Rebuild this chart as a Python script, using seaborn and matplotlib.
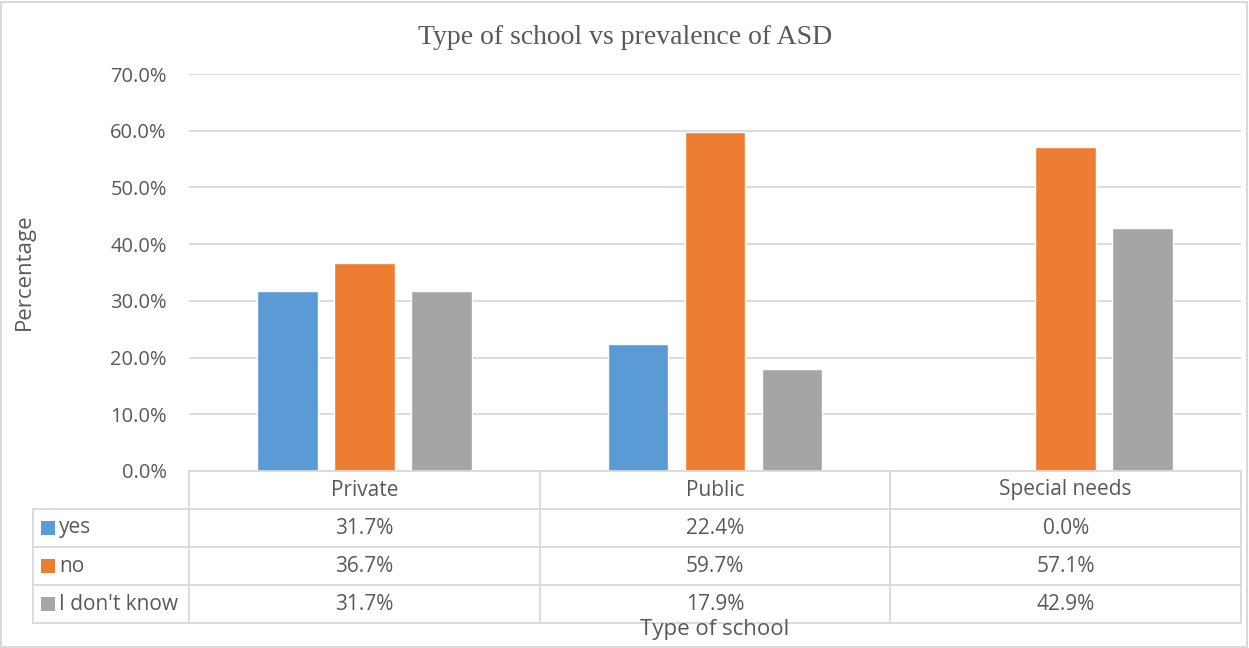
import matplotlib
matplotlib.use("Agg")
import matplotlib.pyplot as plt
import matplotlib.patches as mpatches
import numpy as np
import pandas as pd
import seaborn as sns

# Data
schools = ["Private", "Public", "Special needs"]
responses = ["yes", "no", "I don't know"]
yes_pct = [31.7, 22.4, 0.0]
no_pct = [36.7, 59.7, 57.1]
dont_know_pct = [31.7, 17.9, 42.9]
y_ticks = [0, 10, 20, 30, 40, 50, 60, 70]

colors = ["#5B9BD5", "#ED7D31", "#A5A5A5"]
grid_c = "#D9D9D9"
text_c = "#595959"
font = "Open Sans"

series = [yes_pct, no_pct, dont_know_pct]
df = pd.DataFrame(
    [(s, r, v) for r, vals in zip(responses, series) for s, v in zip(schools, vals)],
    columns=["school", "response", "pct"],
)

sns.set_style("white")
plt.rcParams["font.family"] = [font, "DejaVu Sans"]

W, H = 1249, 648
fig = plt.figure(figsize=(W / 100, H / 100), dpi=100)

def px_box(x0, y0, x1, y1):
    return [x0 / W, 1 - y1 / H, (x1 - x0) / W, (y1 - y0) / H]

# Plot area
ax = fig.add_axes(px_box(189, 74, 1241, 471))
sns.barplot(data=df, x="school", y="pct", hue="response", order=schools,
            hue_order=responses, palette=colors, width=0.658, gap=0.21,
            saturation=1, legend=False, ax=ax, zorder=3)
ax.set_xlim(-0.5, 2.5)
ax.set_ylim(0, 70)
ax.set_yticks(y_ticks)
ax.set_yticklabels([f"{t:.1f}%" for t in y_ticks], fontsize=14.5, color=text_c)
ax.tick_params(axis="y", length=0, pad=16)
ax.set_xticks([])
ax.set_xlabel("")
ax.set_ylabel("")
for s in ax.spines.values():
    s.set_visible(False)
ax.grid(axis="y", color=grid_c, linewidth=1.3, zorder=0)
ax.set_axisbelow(True)

# Data table under the plot, aligned to the category axis
col_px = (1241 - 189) / 3
extra = (189 - 33) / col_px
axt = fig.add_axes(px_box(33, 471, 1241, 623))
axt.set_xlim(-0.5 - extra, 2.5)
axt.set_ylim(4, 0)
axt.axis("off")
lw = 1.3
left = -0.5 - extra
# horizontal lines
axt.plot([-0.5, 2.5], [0, 0], color=grid_c, lw=lw, clip_on=False)
for yy in [1, 2, 3, 4]:
    axt.plot([left, 2.5], [yy, yy], color=grid_c, lw=lw, clip_on=False)
# vertical lines
axt.plot([left, left], [1, 4], color=grid_c, lw=lw, clip_on=False)
for xx in [-0.5, 0.5, 1.5, 2.5]:
    axt.plot([xx, xx], [0, 4], color=grid_c, lw=lw, clip_on=False)

for i, s in enumerate(schools):
    axt.text(i, 0.5, s, ha="center", va="center", fontsize=15, color=text_c)
sq_w = 14 / col_px
for r, (name, vals, c) in enumerate(zip(responses, series, colors)):
    yc = r + 1.5
    axt.add_patch(mpatches.Rectangle((left + 8 / col_px, yc - 0.18), sq_w, 0.37,
                                     facecolor=c, edgecolor="none"))
    axt.text(left + 26 / col_px, yc, name, ha="left", va="center",
             fontsize=15, color=text_c)
    for i, v in enumerate(vals):
        axt.text(i, yc, f"{v:.1f}%", ha="center", va="center",
                 fontsize=15, color=text_c)

# Titles
fig.text(625 / W, 1 - 38 / H, "Type of school vs prevalence of ASD",
         ha="center", va="center", fontsize=20, color=text_c,
         family="Liberation Serif")
fig.text(715 / W, 1 - 629 / H, "Type of school", ha="center", va="center",
         fontsize=16, color=text_c)
fig.text(24 / W, 1 - 272 / H, "Percentage", ha="center", va="center",
         rotation=90, fontsize=16, color=text_c)

# Chart border
fig.add_artist(mpatches.Rectangle((1 / W, 1 / H), 1 - 3 / W, 1 - 3 / H,
                                  transform=fig.transFigure, fill=False,
                                  edgecolor=grid_c, linewidth=1.5))

fig.savefig("out.png", dpi=100, facecolor="white")
